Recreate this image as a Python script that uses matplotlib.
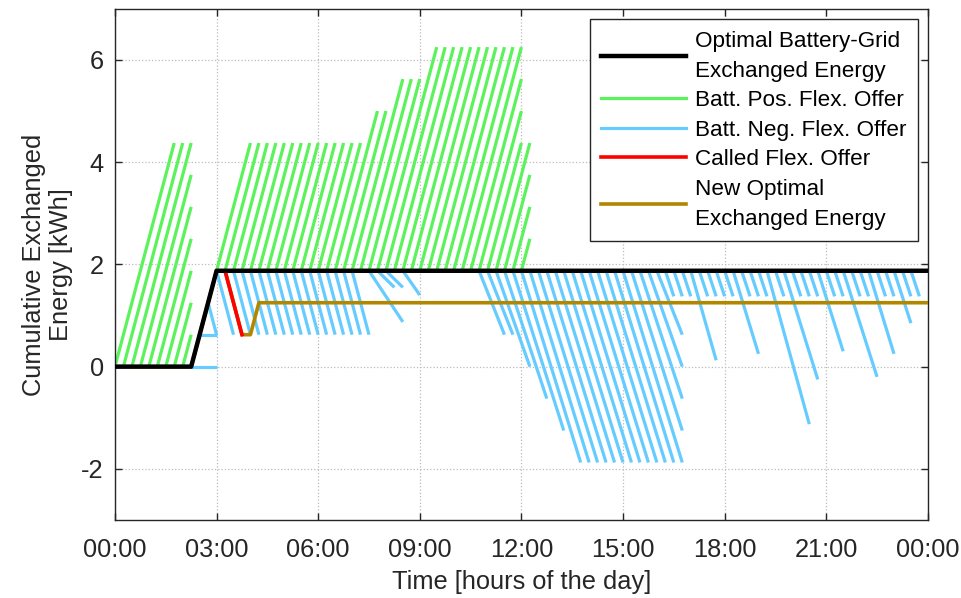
import matplotlib
matplotlib.use("Agg")
import matplotlib.pyplot as plt
from matplotlib.collections import LineCollection
from matplotlib.lines import Line2D

plt.rcParams['font.family'] = ['Liberation Sans', 'DejaVu Sans']
plt.rcParams['axes.unicode_minus'] = False

# optimal battery-grid exchanged energy [h], [kWh]
opt_t = [0.0, 2.25, 3.0, 24.0]
opt_e = [0.0, 0.0, 1.875, 1.875]

# new optimal after the call
new_t = [0.0, 2.25, 3.0, 3.25, 3.75, 4.0, 4.25, 24.0]
new_e = [0.0, 0.0, 1.875, 1.875, 0.625, 0.625, 1.25, 1.25]

# called flex offer
call_t = [3.25, 3.75]
call_e = [1.875, 0.625]

# positive flex offers: start time, start energy, end time, end energy
pos_t0 = [0.0, 0.25, 0.5, 0.75, 1.0, 1.25, 1.5, 1.75, 2.0,
          3.0, 3.25, 3.5, 3.75, 4.0, 4.25, 4.5, 4.75, 5.0, 5.25, 5.5, 5.75, 6.0, 6.25,
          6.5, 6.75, 7.0, 7.25, 7.5,
          7.75, 8.0, 8.25, 8.5, 8.75, 9.0, 9.25, 9.5, 9.75, 10.0, 10.25,
          10.5, 10.75, 11.0, 11.25, 11.5, 11.75, 12.0]
pos_e0 = [0.0] * 9 + [1.875] * 37
pos_t1 = [1.75, 2.0, 2.25, 2.25, 2.25, 2.25, 2.25, 2.25, 2.25,
          4.0, 4.25, 4.5, 4.75, 5.0, 5.25, 5.5, 5.75, 6.0, 6.25, 6.5, 6.75, 7.0, 7.25,
          7.75, 8.0, 8.5, 8.75, 9.0,
          9.5, 9.75, 10.0, 10.25, 10.5, 10.75, 11.0, 11.25, 11.5, 11.75, 12.0,
          12.0, 12.0, 12.0, 12.25, 12.25, 12.25, 12.25]
pos_e1 = [4.375, 4.375, 4.375, 3.75, 3.125, 2.5, 1.875, 1.25, 0.625,
          4.375, 4.375, 4.375, 4.375, 4.375, 4.375, 4.375, 4.375, 4.375, 4.375, 4.375,
          4.375, 4.375, 4.375,
          5.0, 5.0, 5.625, 5.625, 5.625,
          6.25, 6.25, 6.25, 6.25, 6.25, 6.25, 6.25, 6.25, 6.25, 6.25, 6.25,
          5.625, 5.0, 4.375, 4.375, 3.75, 3.125, 2.5]

# negative flex offers
neg_t0 = [2.25, 2.5, 2.75,
          3.0, 3.25, 3.5, 3.75, 4.0, 4.25, 4.5, 4.75, 5.0, 5.25, 5.5, 5.75, 6.0, 6.25,
          6.5, 6.75, 7.0,
          7.5, 7.75, 8.0, 8.5,
          10.75, 11.0, 11.25, 11.5, 11.75,
          12.0, 12.25, 12.5, 12.75, 13.0, 13.25, 13.5, 13.75, 14.0, 14.25, 14.5, 14.75, 15.0,
          15.25, 15.5, 15.75, 16.0,
          16.25, 16.5, 16.75, 17.0, 17.25, 17.5, 17.75, 18.0, 18.25, 18.5, 18.75, 19.0,
          19.25, 19.5, 19.75, 20.0, 20.25, 20.5, 20.75, 21.0, 21.25, 21.5, 21.75, 22.0,
          22.25, 22.5, 22.75, 23.0, 23.25, 23.5]
neg_e0 = [0.0, 0.625, 1.25] + [1.875] * 73
neg_t1 = [3.0, 3.0, 3.0,
          3.5, 3.75, 4.0, 4.25, 4.5, 4.75, 5.0, 5.25, 5.5, 5.75, 6.0, 6.25, 6.5, 6.75,
          7.0, 7.25, 7.5,
          8.5, 8.25, 8.5, 9.0,
          11.5, 11.75, 12.25, 12.75, 13.25,
          13.75, 14.0, 14.25, 14.5, 14.75, 15.0, 15.25, 15.5, 15.75, 16.0, 16.25, 16.5, 16.75,
          16.75, 16.75, 16.75, 16.75,
          16.5, 16.75, 17.0, 17.75, 17.5, 17.75, 18.0, 18.25, 19.0, 18.75, 19.0, 19.25,
          20.5, 19.75, 20.75, 20.25, 20.5, 20.75, 21.5, 21.25, 21.5, 22.5, 22.0, 22.25,
          23.0, 22.75, 23.0, 23.5, 23.5, 23.75]
neg_e1 = [0.0, 0.625, 0.625,
          0.625, 0.625, 0.625, 0.625, 0.625, 0.625, 0.625, 0.625, 0.625, 0.625, 0.625,
          0.625, 0.625, 0.625, 0.625, 0.625, 0.625,
          0.875, 1.55, 1.55, 1.4,
          0.625, 0.625, 0.0, -0.625, -1.25,
          -1.875, -1.875, -1.875, -1.875, -1.875, -1.875, -1.875, -1.875, -1.875, -1.875,
          -1.875, -1.875, -1.875,
          -1.25, -0.625, 0.0, 0.625,
          1.375, 1.375, 1.375, 0.125, 1.375, 1.375, 1.375, 1.375, 0.25, 1.375, 1.375, 1.375,
          -1.125, 1.375, -0.25, 1.375, 1.375, 1.375, 0.3, 1.375, 1.375, -0.2, 1.375, 1.375,
          0.25, 1.375, 1.375, 0.85, 1.375, 1.375]

ticks_h = [0, 3, 6, 9, 12, 15, 18, 21, 24]
tick_labels = ['00:00', '03:00', '06:00', '09:00', '12:00', '15:00', '18:00', '21:00', '00:00']

c_opt = 'black'
c_pos = '#5cf25c'
c_neg = '#66ccff'
c_call = '#ff0000'
c_new = '#b38600'

fig = plt.figure(figsize=(9.62, 5.98), dpi=100)
ax = fig.add_axes([0.1195, 0.1304, 0.845, 0.855])

pos_segs = [[(a, b), (c, d)] for a, b, c, d in zip(pos_t0, pos_e0, pos_t1, pos_e1)]
neg_segs = [[(a, b), (c, d)] for a, b, c, d in zip(neg_t0, neg_e0, neg_t1, neg_e1)]
ax.add_collection(LineCollection(pos_segs, colors=c_pos, linewidths=2.3, zorder=2))
ax.add_collection(LineCollection(neg_segs, colors=c_neg, linewidths=2.3, zorder=2))

ax.plot(new_t, new_e, color=c_new, lw=2.6, zorder=3)
ax.plot(call_t, call_e, color=c_call, lw=2.6, zorder=4)
ax.plot(opt_t, opt_e, color=c_opt, lw=3.2, zorder=5)

ax.set_xlim(0, 24)
ax.set_ylim(-3, 7)
ax.set_xticks(ticks_h)
ax.set_xticklabels(tick_labels)
ax.set_yticks([-2, 0, 2, 4, 6])
ax.tick_params(direction='in', length=5, width=1, top=True, right=True,
               labelsize=18.3, pad=13, colors='#262626')
ax.tick_params(axis='y', pad=8)
ax.grid(True, color='#bbbbbb', linestyle=':', linewidth=0.9)
for s in ax.spines.values():
    s.set_color('#262626')
    s.set_linewidth(1.0)

ax.set_xlabel('Time [hours of the day]', fontsize=18.3, color='#262626', labelpad=6)
ax.set_ylabel('Cumulative Exchanged\nEnergy [kWh]', fontsize=18.3, color='#262626',
              labelpad=6, linespacing=1.15)

handles = [Line2D([], [], color=c_opt, lw=3.2),
           Line2D([], [], color=c_pos, lw=2.3),
           Line2D([], [], color=c_neg, lw=2.3),
           Line2D([], [], color=c_call, lw=2.6),
           Line2D([], [], color=c_new, lw=2.6)]
labels = ['Optimal Battery-Grid\nExchanged Energy', 'Batt. Pos. Flex. Offer',
          'Batt. Neg. Flex. Offer', 'Called Flex. Offer', 'New Optimal\nExchanged Energy']
leg = ax.legend(handles, labels, loc='upper right', bbox_to_anchor=(0.988, 0.979),
                borderaxespad=0, fontsize=16.2, frameon=True, fancybox=False,
                framealpha=1, edgecolor='#262626', handlelength=3.8,
                labelspacing=0.38, borderpad=0.5, handletextpad=0.4)
for txt in leg.get_texts():
    txt.set_linespacing(1.56)
leg.get_frame().set_linewidth(1.0)
leg.set_zorder(10)

fig.savefig('out.png', dpi=100)
